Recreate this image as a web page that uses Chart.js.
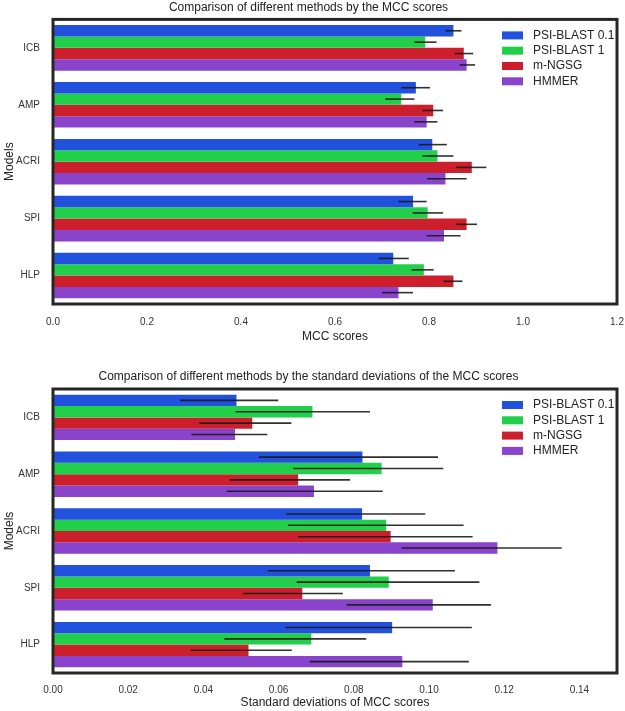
<!DOCTYPE html>
<html lang="en">
<head>
  <meta charset="UTF-8">
  <title>MCC comparison</title>
  <script src="https://cdn.jsdelivr.net/npm/chart.js"></script>
  <style>
    body { margin: 0; background: #fff; font-family: "Liberation Sans", Arial, sans-serif; }
    .box { position: relative; width: 625px; }
  </style>
</head>
<body>
  <div class="box" style="height:345px"><canvas id="mcc"></canvas></div>
  <div class="box" style="height:366px"><canvas id="std"></canvas></div>

  <script>
    const categories = ['ICB', 'AMP', 'ACRI', 'SPI', 'HLP'];
    const methods = ['PSI-BLAST 0.1', 'PSI-BLAST 1', 'm-NGSG', 'HMMER'];
    const colors = ['#2251de', '#22cf4b', '#cc1f2b', '#8944cb'];

    // mean MCC scores (top chart)
    const mccPsi01 = [0.852, 0.772, 0.807, 0.766, 0.724];
    const mccPsi1  = [0.792, 0.741, 0.818, 0.797, 0.789];
    const mccNgsg  = [0.874, 0.809, 0.891, 0.880, 0.852];
    const mccHmmer = [0.880, 0.795, 0.835, 0.832, 0.735];
    // error bar ends
    const mccPsi01Lo = [0.835, 0.741, 0.778, 0.735, 0.693];
    const mccPsi01Hi = [0.869, 0.802, 0.838, 0.795, 0.757];
    const mccPsi1Lo  = [0.769, 0.707, 0.786, 0.765, 0.763];
    const mccPsi1Hi  = [0.816, 0.769, 0.852, 0.830, 0.810];
    const mccNgsgLo  = [0.855, 0.786, 0.857, 0.858, 0.831];
    const mccNgsgHi  = [0.894, 0.830, 0.922, 0.902, 0.871];
    const mccHmmerLo = [0.865, 0.769, 0.796, 0.795, 0.700];
    const mccHmmerHi = [0.898, 0.818, 0.880, 0.867, 0.766];

    // standard deviations of MCC (bottom chart)
    const stdPsi01 = [0.0488, 0.0823, 0.0822, 0.0843, 0.0902];
    const stdPsi1  = [0.0690, 0.0874, 0.0886, 0.0893, 0.0687];
    const stdNgsg  = [0.0530, 0.0652, 0.0898, 0.0663, 0.0520];
    const stdHmmer = [0.0484, 0.0694, 0.1182, 0.1010, 0.0929];
    const stdPsi01Lo = [0.0337, 0.0548, 0.0620, 0.0571, 0.0618];
    const stdPsi01Hi = [0.0599, 0.1024, 0.0990, 0.1069, 0.1114];
    const stdPsi1Lo  = [0.0486, 0.0639, 0.0625, 0.0648, 0.0456];
    const stdPsi1Hi  = [0.0843, 0.1038, 0.1092, 0.1134, 0.0833];
    const stdNgsgLo  = [0.0389, 0.0470, 0.0652, 0.0505, 0.0366];
    const stdNgsgHi  = [0.0634, 0.0790, 0.1116, 0.0771, 0.0635];
    const stdHmmerLo = [0.0368, 0.0462, 0.0927, 0.0781, 0.0683];
    const stdHmmerHi = [0.0570, 0.0877, 0.1353, 0.1165, 0.1106];

    const mccTicks = [0, 0.2, 0.4, 0.6, 0.8, 1.0, 1.2];
    const stdTicks = [0, 0.02, 0.04, 0.06, 0.08, 0.10, 0.12, 0.14];

    const FONT = '"Liberation Sans", Arial, sans-serif';

    // error bars, frame and legend drawn on top of the bars
    const extras = {
      id: 'extras',
      afterDatasetsDraw(chart) {
        const ctx = chart.ctx;
        const xs = chart.scales.x;
        const area = chart.chartArea;
        ctx.save();
        ctx.strokeStyle = 'rgba(25,25,25,0.9)';
        ctx.lineWidth = 1.6;
        chart.data.datasets.forEach((ds, di) => {
          const meta = chart.getDatasetMeta(di);
          meta.data.forEach((bar, i) => {
            const x1 = xs.getPixelForValue(ds.errLo[i]);
            const x2 = xs.getPixelForValue(ds.errHi[i]);
            ctx.beginPath();
            ctx.moveTo(x1, bar.y);
            ctx.lineTo(x2, bar.y);
            ctx.stroke();
          });
        });

        // legend
        const lx = area.right - 115;
        const ly = area.top + 16;
        ctx.fillStyle = 'rgba(255,255,255,0.8)';
        ctx.fillRect(lx - 8, area.top + 4, 112, 72);
        ctx.font = '12px ' + FONT;
        ctx.textBaseline = 'middle';
        chart.data.datasets.forEach((ds, di) => {
          const y = ly + di * 15.3;
          ctx.fillStyle = ds.backgroundColor;
          ctx.fillRect(lx, y - 4, 21, 8);
          ctx.fillStyle = '#222';
          ctx.fillText(ds.label, lx + 31, y);
        });

        // frame
        ctx.strokeStyle = '#262626';
        ctx.lineWidth = 3;
        ctx.strokeRect(area.left, area.top, area.right - area.left, area.bottom - area.top);
        ctx.restore();
      }
    };

    function makeDatasets(vals, los, his) {
      return methods.map((m, k) => ({
        label: m,
        data: vals[k],
        errLo: los[k],
        errHi: his[k],
        backgroundColor: colors[k],
        categoryPercentage: 0.8,
        barPercentage: 1.0
      }));
    }

    function makeChart(id, opts) {
      return new Chart(document.getElementById(id), {
        type: 'bar',
        data: {
          labels: categories,
          datasets: makeDatasets(opts.vals, opts.los, opts.his)
        },
        options: {
          indexAxis: 'y',
          responsive: true,
          maintainAspectRatio: false,
          animation: false,
          layout: { padding: { left: 0, right: 8, top: 0, bottom: 0 } },
          plugins: {
            legend: { display: false },
            tooltip: { enabled: false },
            title: {
              display: true,
              text: opts.title,
              color: '#222',
              font: { family: FONT, size: 12, weight: 'normal' },
              padding: opts.titlePad
            }
          },
          scales: {
            x: {
              min: 0,
              max: opts.max,
              grid: { display: false, drawTicks: false },
              border: { display: false },
              afterBuildTicks: s => { s.ticks = opts.ticks.map(v => ({ value: v })); },
              afterFit: s => {
                s.height = opts.xHeight;
                s.paddingLeft = 0;
                s.paddingRight = 0;
              },
              ticks: {
                padding: opts.tickPad,
                maxRotation: 0,
                color: '#333',
                font: { family: FONT, size: 10 },
                callback: v => v.toFixed(opts.dec)
              },
              title: {
                display: true,
                text: opts.xTitle,
                color: '#222',
                font: { family: FONT, size: 12 },
                padding: { top: 0, bottom: 1 }
              }
            },
            y: {
              grid: { display: false, drawTicks: false },
              border: { display: false },
              afterFit: s => { s.width = 53; },
              ticks: {
                padding: 13,
                color: '#333',
                font: { family: FONT, size: 10 }
              },
              title: {
                display: true,
                text: 'Models',
                color: '#222',
                font: { family: FONT, size: 12 },
                padding: { top: 2, bottom: 0 }
              }
            }
          }
        },
        plugins: [extras]
      });
    }

    makeChart('mcc', {
      title: 'Comparison of different methods by the MCC scores',
      titlePad: { top: 0, bottom: 5 },
      xTitle: 'MCC scores',
      max: 1.2,
      ticks: mccTicks,
      dec: 1,
      xHeight: 41,
      tickPad: 12,
      vals: [mccPsi01, mccPsi1, mccNgsg, mccHmmer],
      los: [mccPsi01Lo, mccPsi1Lo, mccNgsgLo, mccHmmerLo],
      his: [mccPsi01Hi, mccPsi1Hi, mccNgsgHi, mccHmmerHi]
    });

    makeChart('std', {
      title: 'Comparison of different methods by the standard deviations of the MCC scores',
      titlePad: { top: 24, bottom: 5.6 },
      xTitle: 'Standard deviations of MCC scores',
      max: 0.15,
      ticks: stdTicks,
      dec: 2,
      xHeight: 38,
      tickPad: 11,
      vals: [stdPsi01, stdPsi1, stdNgsg, stdHmmer],
      los: [stdPsi01Lo, stdPsi1Lo, stdNgsgLo, stdHmmerLo],
      his: [stdPsi01Hi, stdPsi1Hi, stdNgsgHi, stdHmmerHi]
    });
  </script>
</body>
</html>
